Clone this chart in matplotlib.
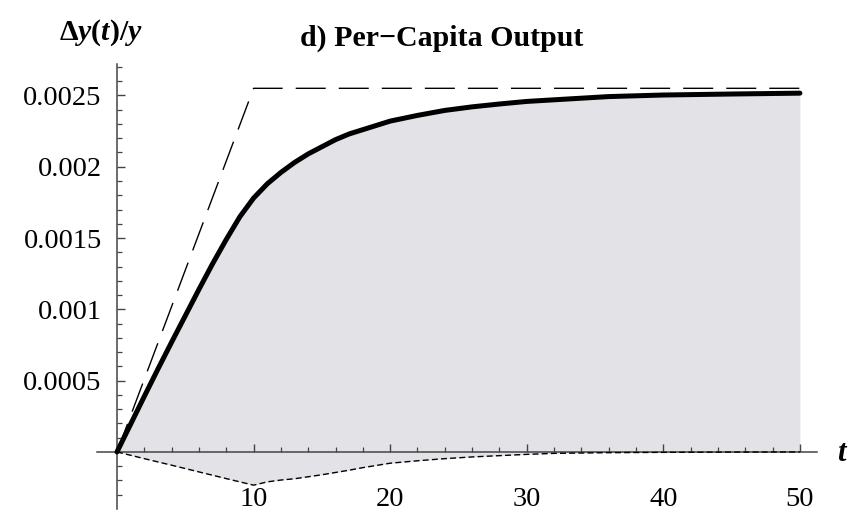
import matplotlib.pyplot as plt
import matplotlib.ticker as mticker

plt.rcParams['font.family'] = ['Liberation Serif', 'DejaVu Serif']
plt.rcParams['mathtext.fontset'] = 'custom'
plt.rcParams['mathtext.rm'] = 'Liberation Serif:bold'
plt.rcParams['mathtext.it'] = 'Liberation Serif:italic:bold'
plt.rcParams['mathtext.bf'] = 'Liberation Serif:bold'

# solid curve: per-capita output response
t_solid = [0, 1, 2, 3, 4, 5, 6, 7, 8, 9, 10, 11, 12, 13, 14, 15, 16, 17, 18,
           19, 20, 22, 24, 26, 28, 30, 33, 36, 40, 45, 50]
y_solid = [0, 0.000195, 0.00039, 0.000582, 0.00077, 0.000955, 0.00114,
           0.00132, 0.00149, 0.00165, 0.00178, 0.00188, 0.00196, 0.00203,
           0.00209, 0.00214, 0.00219, 0.00223, 0.00226, 0.00229, 0.00232,
           0.00236, 0.002395, 0.00242, 0.00244, 0.002458, 0.002475, 0.002492,
           0.002503, 0.00251, 0.002516]

# dashed curve
t_dash = [0, 10, 50]
y_dash = [0, 0.00255, 0.00255]

# dotted curve (negative part)
t_dot = [0, 2, 4, 6, 8, 10, 11, 12, 13, 15, 17, 18, 20, 22, 24, 26, 28, 30,
         32, 36, 40, 45, 50]
y_dot = [0, -0.000047, -0.000093, -0.00014, -0.000187, -0.000233, -0.00021,
         -0.000197, -0.000188, -0.00016, -0.000128, -0.00011, -0.000079,
         -0.000062, -0.000047, -0.000035, -0.000026, -0.000017, -0.00001,
         -0.000005, -0.000003, -0.000001, 0]

x_major = [10, 20, 30, 40, 50]
y_major = [0.0005, 0.001, 0.0015, 0.002, 0.0025]
y_labels = ['0.0005', '0.001', '0.0015', '0.002', '0.0025']

fig = plt.figure(figsize=(8.67, 5.23), dpi=100)
ax = fig.add_axes([0.1121, 0.0268, 0.8302, 0.8507])

fill_col = '#e2e2e7'
ax.fill_between(t_solid, y_solid, 0, color=fill_col, lw=0, zorder=1)
ax.fill_between(t_dot, y_dot, 0, color=fill_col, lw=0, zorder=1)

ax.plot(t_dash, y_dash, color='black', lw=1.0, dashes=(21.6, 9.4), zorder=3)
# dotted line sits under the tick labels, like the "10" in the original
ax.plot(t_dot, y_dot, color='black', lw=1.0, dashes=(4.3, 2.3), zorder=2.2)
ax.plot(t_solid, y_solid, color='black', lw=3.6, solid_capstyle='round',
        solid_joinstyle='round', zorder=4)

ax.set_xlim(-1.45, 51.25)
ax.set_ylim(-0.0004, 0.00272)

for s in ['top', 'right']:
    ax.spines[s].set_visible(False)
for s in ['left', 'bottom']:
    ax.spines[s].set_position(('data', 0))
    ax.spines[s].set_color('#444444')
    ax.spines[s].set_linewidth(1.1)
    ax.spines[s].set_zorder(2)

ax.xaxis.set_major_locator(mticker.FixedLocator(x_major))
ax.xaxis.set_minor_locator(mticker.FixedLocator([v for v in range(2, 51, 2) if v % 10]))
ax.yaxis.set_major_locator(mticker.FixedLocator(y_major))
ax.yaxis.set_major_formatter(mticker.FixedFormatter(y_labels))
minor_y = [k * 0.0001 for k in range(-3, 28) if k % 5]
ax.yaxis.set_minor_locator(mticker.FixedLocator(minor_y))

ax.tick_params(axis='both', which='major', direction='in', length=6, width=1,
               color='#444444', labelsize=20.5)
ax.tick_params(axis='both', which='minor', direction='in', length=3.5, width=0.9,
               color='#444444')
ax.tick_params(axis='x', which='major', pad=25)
ax.tick_params(axis='y', which='major', pad=11)

fig.text(0.509, 0.927, 'd) Per\u2212Capita Output', fontsize=21.5, fontweight='bold',
         ha='center', va='center')
fig.text(0.116, 0.938, r'$\Delta y(t)/y$', fontsize=21.5, ha='center', va='center')
fig.text(0.972, 0.132, r'$t$', fontsize=22, ha='center', va='center')

fig.savefig('out.png', dpi=100)
